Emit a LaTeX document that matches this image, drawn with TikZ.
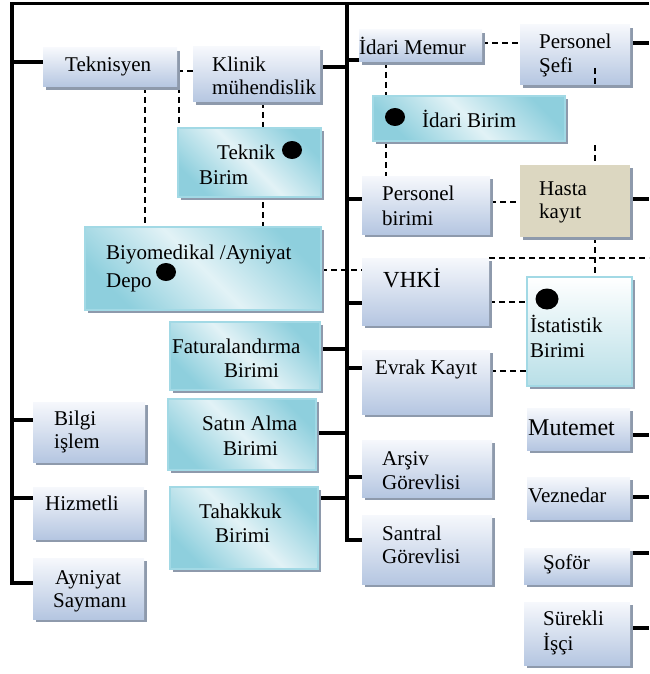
\documentclass[tikz,border=0pt]{standalone}
\usepackage{fontspec}
\setmainfont{Liberation Serif}
\usetikzlibrary{shadows,shapes.geometric,backgrounds}
\definecolor{bTop}{HTML}{F6F8FC}
\definecolor{bBot}{HTML}{B5C6E1}
\definecolor{shGray}{HTML}{8E9AAC}
\definecolor{cDark}{HTML}{8ECFDD}
\definecolor{cLight}{HTML}{E2F2F6}
\definecolor{cBord}{HTML}{A2D9E5}
\definecolor{hastaTan}{HTML}{DCD7C1}
\definecolor{iBot}{HTML}{B8DFE7}
\tikzset{
 shd/.style={general shadow={fill=shGray, shadow xshift=3pt, shadow yshift=-3pt}},
 orgbase/.style={rectangle, inner sep=0pt, outer sep=0pt, anchor=north west, shd},
 bluebox/.style={orgbase, draw=none, top color=bTop, bottom color=bBot},
 cyanbox/.style={orgbase, draw=cBord, line width=1.5pt, top color=cDark, bottom color=cDark, middle color=cLight, shading angle=-45},
 tanbox/.style={orgbase, draw=none, fill=hastaTan},
 statbox/.style={orgbase, draw=cBord, line width=2pt, top color=white, bottom color=iBot},
 txt/.style={inner sep=0pt, anchor=base west, font=\fontsize{21}{23}\selectfont},
 dot/.style={ellipse, fill=black, inner sep=0pt, minimum width=20pt, minimum height=18pt},
 spine/.style={line width=3.5pt, line join=miter},
 link/.style={line width=3.5pt},
 dashln/.style={line width=1.8pt, dash pattern=on 6pt off 4pt},
}
\newcommand\orgbox[6]{\node[#1, minimum width={(#5-#3)*1pt}, minimum height={(#6-#4)*1pt}] (#2) at (#3,#4) {};}
\newcommand\orgtxt[4]{\node[txt] (#1) at (#2,#3) {#4};}
\begin{document}
\begin{tikzpicture}[x=1pt,y=-1pt]
\useasboundingbox (0,0) rectangle (649,674);
% boxes
\orgbox{bluebox}{tekn}{43}{48}{177}{87}
\orgbox{bluebox}{klinik}{193}{47}{320}{102}
\orgbox{cyanbox}{teknik}{178}{128}{321}{197}
\orgbox{cyanbox}{biyo}{85}{227}{321}{310}
\orgbox{bluebox}{imemur}{359}{30}{482}{62}
\orgbox{bluebox}{psefi}{520}{25}{630}{85}
\orgbox{cyanbox}{ibirim}{373}{96}{565}{141}
\orgbox{bluebox}{pbirim}{362}{176}{490}{234}
\orgbox{tanbox}{hasta}{520}{165}{630}{237}
\orgbox{bluebox}{vhki}{362}{258}{489}{325}
\orgbox{statbox}{istat}{527}{277}{632}{386}
\orgbox{bluebox}{evrak}{362}{350}{490}{414}
\orgbox{cyanbox}{fatura}{170}{322}{320}{390}
\orgbox{cyanbox}{satin}{168}{399}{316}{470}
\orgbox{cyanbox}{tahak}{170}{487}{318}{569}
\orgbox{bluebox}{bilgi}{33}{402}{145}{462}
\orgbox{bluebox}{hizmet}{33}{487}{144}{539}
\orgbox{bluebox}{ayni}{33}{558}{144}{619}
\orgbox{bluebox}{arsiv}{362}{440}{492}{497}
\orgbox{bluebox}{santral}{362}{515}{492}{584}
\orgbox{bluebox}{mutemet}{527}{408}{630}{450}
\orgbox{bluebox}{vezne}{527}{477}{630}{519}
\orgbox{bluebox}{sofor}{524}{548}{630}{584}
\orgbox{bluebox}{surekli}{524}{602}{630}{665}
% spine coordinates
\coordinate (TR) at (649,3.5);
\coordinate (TL) at (12,3.5);
\coordinate (LB) at (12,583);
\coordinate (CT) at (347,3.5);
\coordinate (CB) at (347,540);
\coordinate (RE) at (649,0);
\begin{pgfonlayer}{background}
\draw[spine] (TR) -- (TL) -- (LB) -- (ayni.west |- LB);
\draw[spine] (CT) -- (CB) -- (santral.west |- CB);
% left spine links
\draw[link] (TL |- 0,62) -- (tekn.west |- 0,62);
\draw[link] (TL |- 0,420) -- (bilgi.west |- 0,420);
\draw[link] (TL |- 0,498) -- (hizmet.west |- 0,498);
% central spine links, left side
\draw[link] (CT |- 0,67) -- (klinik.east |- 0,67);
\draw[link] (CT |- 0,349) -- (fatura.east |- 0,349);
\draw[link] (CT |- 0,433) -- (satin.east |- 0,433);
\draw[link] (CT |- 0,498) -- (tahak.east |- 0,498);
% central spine links, right side
\draw[link] (CT |- 0,60) -- (imemur.west |- 0,60);
\draw[link] (CT |- 0,199) -- (pbirim.west |- 0,199);
\draw[link] (CT |- 0,303) -- (vhki.west |- 0,303);
\draw[link] (CT |- 0,368) -- (evrak.west |- 0,368);
\draw[link] (CT |- 0,477) -- (arsiv.west |- 0,477);
% right edge links
\draw[link] (psefi.east |- 0,43) -- (RE |- 0,43);
\draw[link] (hasta.east |- 0,199) -- (RE |- 0,199);
\draw[link] (mutemet.east |- 0,435) -- (RE |- 0,435);
\draw[link] (vezne.east |- 0,497) -- (RE |- 0,497);
\draw[link] (sofor.east |- 0,553) -- (RE |- 0,553);
\draw[link] (surekli.east |- 0,628) -- (RE |- 0,628);
% dashed relations
\draw[dashln] (klinik.west |- 0,71) -- (179,71) -- (179,0 |- teknik.north);
\draw[dashln] (145,0 |- tekn.south) -- (145,0 |- biyo.north);
\draw[dashln] (263,0 |- klinik.south) -- (263,0 |- biyo.north);
\draw[dashln] (biyo.east |- 0,270) -- (vhki.west |- 0,270);
\draw[dashln] (imemur.east |- 0,43) -- (psefi.west |- 0,43);
\draw[dashln] (386,0 |- imemur.south) -- (386,0 |- pbirim.north);
\draw[dashln] (595,145) -- (595,0 |- hasta.north);
\draw[dashln] (595,0 |- hasta.south) -- (595,0 |- istat.north);
\draw[dashln] (pbirim.east |- 0,202) -- (hasta.west |- 0,202);
\draw[dashln] (vhki.north east) -- (RE |- vhki.north east);
\draw[dashln] (vhki.east |- 0,302) -- (istat.west |- 0,302);
\draw[dashln] (evrak.east |- 0,371) -- (istat.west |- 0,371);
\end{pgfonlayer}
\draw[dashln] (595,68) -- (595,0 |- psefi.south);
% texts
\orgtxt{tTek}{65}{72}{Teknisyen}
\orgtxt{tKl1}{212}{72}{Klinik}
\orgtxt{tKl2}{212}{95}{mühendislik}
\orgtxt{tTB1}{217}{159}{Teknik}
\orgtxt{tTB2}{199}{184}{Birim}
\orgtxt{tBy1}{106}{259}{Biyomedikal /Ayniyat}
\orgtxt{tBy2}{106}{287}{Depo}
\orgtxt{tIM}{359}{55}{İdari Memur}
\orgtxt{tPS1}{539}{49}{Personel}
\orgtxt{tPS2}{539}{73}{Şefi}
\orgtxt{tIB}{422}{128}{İdari Birim}
\orgtxt{tPB1}{382}{200}{Personel}
\orgtxt{tPB2}{382}{225}{birimi}
\orgtxt{tHK1}{539}{195}{Hasta}
\orgtxt{tHK2}{539}{218}{kayıt}
\node[txt, font=\fontsize{23}{25}\selectfont] (tVH) at (383,287) {VHKİ};
\orgtxt{tIS1}{530}{332}{İstatistik}
\orgtxt{tIS2}{530}{357}{Birimi}
\orgtxt{tEK}{375}{374}{Evrak Kayıt}
\orgtxt{tFB1}{172}{353}{Faturalandırma}
\orgtxt{tFB2}{224}{377}{Birimi}
\orgtxt{tSA1}{202}{430}{Satın Alma}
\orgtxt{tSA2}{223}{455}{Birimi}
\orgtxt{tTA1}{199}{518}{Tahakkuk}
\orgtxt{tTA2}{215}{542}{Birimi}
\orgtxt{tBI1}{54}{425}{Bilgi}
\orgtxt{tBI2}{54}{448}{işlem}
\orgtxt{tHZ}{45}{510}{Hizmetli}
\orgtxt{tAY1}{55}{584}{Ayniyat}
\orgtxt{tAY2}{53}{607}{Saymanı}
\orgtxt{tAR1}{382}{465}{Arşiv}
\orgtxt{tAR2}{382}{489}{Görevlisi}
\orgtxt{tSN1}{382}{540}{Santral}
\orgtxt{tSN2}{382}{563}{Görevlisi}
\node[txt, font=\fontsize{24}{26}\selectfont] (tMU) at (528,435) {Mutemet};
\orgtxt{tVZ}{528}{502}{Veznedar}
\orgtxt{tSF}{543}{569}{Şoför}
\orgtxt{tSU1}{543}{625}{Sürekli}
\orgtxt{tSU2}{543}{650}{İşçi}
% dots
\node[dot] (d1) at (292,150) {};
\node[dot] (d2) at (166,272) {};
\node[dot] (d3) at (395,117) {};
\node[dot, minimum width=23pt, minimum height=21pt] (d4) at (547,299) {};
\end{tikzpicture}
\end{document}
